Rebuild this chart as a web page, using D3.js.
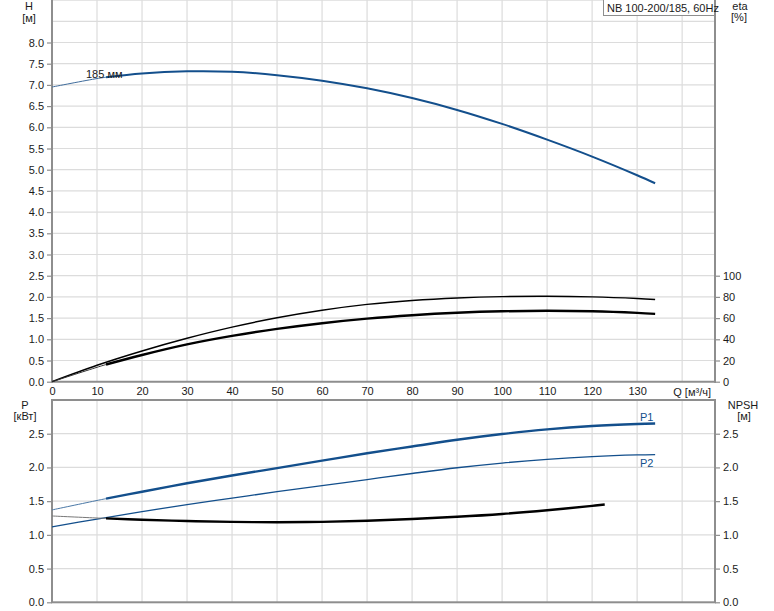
<!DOCTYPE html>
<html><head><meta charset="utf-8">
<script src="https://cdn.jsdelivr.net/npm/d3@7"></script>
<style>
body{margin:0;background:#fff}
text{font-family:"Liberation Sans",Arial,sans-serif;font-size:11px;fill:#1a1a1a}
</style>
</head><body><svg id="c" width="774" height="611"></svg>
<script>
// ---- data ----
const qTicks = [0,10,20,30,40,50,60,70,80,90,100,110,120,130];
const qGrid = [10,20,30,40,50,60,70,80,90,100,110,120,130,140];
const hTicks = [0,0.5,1,1.5,2,2.5,3,3.5,4,4.5,5,5.5,6,6.5,7,7.5,8];
const hGrid = [0.5,1,1.5,2,2.5,3,3.5,4,4.5,5,5.5,6,6.5,7,7.5,8,8.5,9];
const etaTicks = [0,20,40,60,80,100];
const pTicks = [0,0.5,1,1.5,2,2.5];
const pGrid = [0.5,1,1.5,2,2.5];

const hQ   = [0,10,12,20,30,40,50,60,70,80,90,100,110,120,130,134];
const hVal = [6.95,7.15,7.18,7.27,7.32,7.31,7.23,7.10,6.92,6.69,6.41,6.08,5.71,5.31,4.87,4.68];

const eta1Q   = [0,10,20,30,40,50,60,70,80,90,100,110,120,130,134];
const eta1Val = [0,15.5,29,41,51.5,60.3,67.4,72.9,76.6,79,80.3,80.6,80,78.5,77.6];

const eta2Q   = [0,10,12,20,30,40,50,60,70,80,90,100,110,120,130,134];
const eta2Val = [0,13.6,16.2,25.2,35.2,43.2,49.8,55.2,59.5,62.7,65,66.4,66.9,66.4,64.9,64.0];

const p1Q   = [0,10,12,20,30,40,50,60,70,80,90,100,110,120,130,134];
const p1Val = [1.37,1.51,1.537,1.64,1.765,1.88,1.99,2.10,2.21,2.31,2.41,2.495,2.565,2.615,2.645,2.652];

const p2Q   = [0,10,20,30,40,50,60,70,80,90,100,110,120,130,134];
const p2Val = [1.12,1.235,1.345,1.45,1.545,1.64,1.73,1.82,1.91,1.995,2.065,2.12,2.16,2.185,2.19];

const npshQ   = [0,10,12,20,30,40,50,60,70,80,90,100,110,120,122.8];
const npshVal = [1.28,1.25,1.245,1.225,1.205,1.192,1.188,1.193,1.21,1.235,1.268,1.31,1.365,1.43,1.45];

const thickFrom = 12;
const blue = "#134f8c";

// ---- scales ----
const svg = d3.select("#c");
const L = 52, R = 715;
const x = d3.scaleLinear().domain([0,147.3]).range([L,R]);
const yH = d3.scaleLinear().domain([0,9]).range([381.7,0.1]);
const yEta = d3.scaleLinear().domain([0,360]).range([381.7,0.1]);
const yP = d3.scaleLinear().domain([0,3]).range([602.3,400]);

const gridC = "#dcdcdc", axisC = "#8e8e8e";

// grids
const g = svg.append("g");
g.selectAll(".vt").data(qGrid).join("line")
  .attr("x1",d=>x(d)).attr("x2",d=>x(d)).attr("y1",yH(9)).attr("y2",yH(0))
  .attr("stroke",gridC).attr("stroke-width",1.2);
g.selectAll(".vb").data(qGrid).join("line")
  .attr("x1",d=>x(d)).attr("x2",d=>x(d)).attr("y1",yP(3)).attr("y2",yP(0))
  .attr("stroke",gridC).attr("stroke-width",1.2);
g.selectAll(".ht").data(hGrid).join("line")
  .attr("x1",L).attr("x2",R).attr("y1",d=>yH(d)).attr("y2",d=>yH(d))
  .attr("stroke",gridC).attr("stroke-width",1.2);
g.selectAll(".hb").data(pGrid).join("line")
  .attr("x1",L).attr("x2",R).attr("y1",d=>yP(d)).attr("y2",d=>yP(d))
  .attr("stroke",gridC).attr("stroke-width",1.2);

// axes
function styleAxis(sel){
  sel.select(".domain").remove();
  sel.selectAll(".tick line").attr("stroke",axisC).attr("stroke-width",1.2);
  sel.selectAll("text").attr("font-size",null).attr("font-family",null).attr("fill","#1a1a1a");
}
svg.append("g").attr("transform",`translate(${L},0)`)
  .call(d3.axisLeft(yH).tickValues(hTicks).tickFormat(d3.format(".1f")).tickSize(5).tickPadding(3))
  .call(styleAxis);
svg.append("g").attr("transform",`translate(${R},0)`)
  .call(d3.axisRight(yEta).tickValues(etaTicks).tickFormat(d3.format("d")).tickSize(5).tickPadding(3))
  .call(styleAxis);
svg.append("g").attr("transform",`translate(0,${yH(0)})`)
  .call(d3.axisBottom(x).tickValues(qTicks).tickFormat(d3.format("d")).tickSize(0).tickPadding(6))
  .call(styleAxis);
svg.append("g").attr("transform",`translate(${L},0)`)
  .call(d3.axisLeft(yP).tickValues(pTicks).tickFormat(d3.format(".1f")).tickSize(5).tickPadding(3))
  .call(styleAxis);
svg.append("g").attr("transform",`translate(${R},0)`)
  .call(d3.axisRight(yP).tickValues(pTicks).tickFormat(d3.format(".1f")).tickSize(5).tickPadding(3))
  .call(styleAxis);

// frame lines
const fr = svg.append("g").attr("stroke",axisC).attr("stroke-width",2).attr("fill","none");
fr.append("line").attr("x1",L).attr("x2",L).attr("y1",0).attr("y2",yH(0)+1);
fr.append("line").attr("x1",R).attr("x2",R).attr("y1",0).attr("y2",yH(0)+1);
fr.append("line").attr("x1",L-1).attr("x2",R+1).attr("y1",yH(0)).attr("y2",yH(0));
fr.append("rect").attr("x",L).attr("y",yP(3)).attr("width",R-L).attr("height",yP(0)-yP(3));

// curves
function draw(qs, vs, ys, color, thinW, thickW, thinColor, thinAll){
  const pts = qs.map((q,i)=>({q, v:vs[i]}));
  const line = d3.line().x(d=>x(d.q)).y(d=>ys(d.v)).curve(d3.curveCatmullRom.alpha(0.5));
  if (thinAll){
    svg.append("path").attr("d",line(pts)).attr("fill","none")
      .attr("stroke",color).attr("stroke-width",thinW);
    return;
  }
  svg.append("path").attr("d",line(pts.filter(d=>d.q<=thickFrom))).attr("fill","none")
    .attr("stroke",thinColor).attr("stroke-width",thinW);
  svg.append("path").attr("d",line(pts.filter(d=>d.q>=thickFrom))).attr("fill","none")
    .attr("stroke",color).attr("stroke-width",thickW).attr("stroke-linecap","butt");
}
draw(hQ,hVal,yH,blue,1,2,"#3f6c9c");
draw(eta1Q,eta1Val,yEta,"#000",1.4,1.4,"#000",true);
draw(eta2Q,eta2Val,yEta,"#000",1,2.4,"#333");
draw(p1Q,p1Val,yP,blue,1,2.4,"#4a78a6");
draw(p2Q,p2Val,yP,blue,1.3,1.3,blue,true);
draw(npshQ,npshVal,yP,"#000",1,2.4,"#777");

// labels
function t(txt,xx,yy,anchor,fill){
  return svg.append("text").attr("x",xx).attr("y",yy).attr("text-anchor",anchor||"middle")
    .attr("dominant-baseline","central").style("fill",fill||"#1a1a1a").text(txt);
}
t("H",29,6); t("[м]",29,18);
t("eta",740,6); t("[%]",739,17);
t("P",25,405); t("[кВт]",25,416);
t("NPSH",743,405); t("[м]",744,416);
t("Q [м³/ч]",711,392,"end");
t("185 мм",86,74,"start");
t("P1",640,417,"start",blue);
t("P2",640,463,"start",blue);

// legend box
svg.append("rect").attr("x",603.5).attr("y",-1).attr("width",111).attr("height",16.5)
  .attr("fill","#fff").attr("stroke","#8e8e8e").attr("stroke-width",1);
t("NB 100-200/185, 60Hz",607,8,"start");
</script>
</body></html>
